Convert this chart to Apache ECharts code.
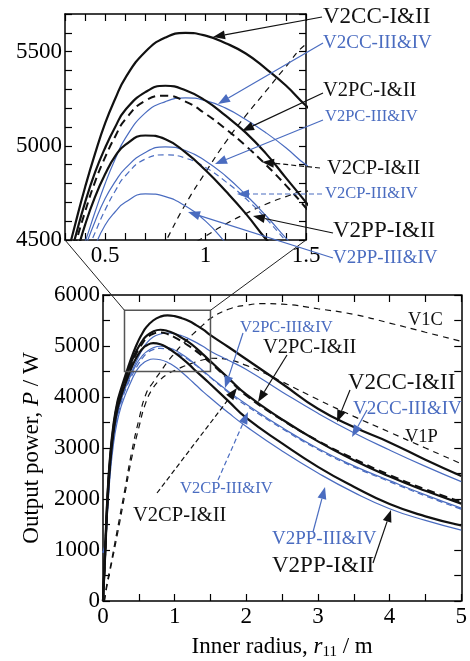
<!DOCTYPE html>
<html>
<head>
<meta charset="utf-8">
<script src="https://cdn.jsdelivr.net/npm/echarts@6/dist/echarts.min.js"></script>
<style>
html, body { margin: 0; padding: 0; background: #fff; }
#chart { width: 470px; height: 661px; }
</style>
</head>
<body>
<div id="chart"></div>
<script>
// inner radius r11 (m) used by the V2 curves
var R = [0, 0.03, 0.06, 0.1, 0.15, 0.2, 0.25, 0.3, 0.35, 0.4, 0.45, 0.5, 0.55, 0.6, 0.7, 0.8, 0.9, 1.0,
    1.1, 1.2, 1.3, 1.4, 1.5, 1.75, 2.0, 2.5, 3.0, 3.5, 4.0, 4.5, 5.0];
// output power P (W)
var v2ccA = [0, 1000, 2000, 2850, 3500, 3900, 4150, 4370, 4580, 4780, 4960, 5120, 5250, 5360, 5500, 5575, 5600, 5585,
    5545, 5490, 5410, 5320, 5213, 4980, 4740, 4260, 3770, 3410, 3110, 2770, 2450];
var v2pcA = [0, 950, 1950, 2800, 3450, 3850, 4100, 4310, 4510, 4700, 4860, 4990, 5100, 5190, 5285, 5319, 5295, 5240,
    5160, 5070, 4960, 4830, 4700, 4370, 4050, 3560, 3130, 2760, 2440, 2160, 1910];
var v2cpA = [0, 930, 1900, 2760, 3400, 3800, 4060, 4270, 4470, 4650, 4810, 4940, 5050, 5140, 5240, 5266, 5235, 5170,
    5090, 5000, 4900, 4790, 4670, 4350, 4030, 3550, 3140, 2790, 2470, 2190, 1940];
var v2ppA = [0, 900, 1850, 2700, 3350, 3750, 4000, 4210, 4400, 4580, 4730, 4850, 4945, 5005, 5055, 5035, 4965, 4870,
    4760, 4640, 4505, 4380, 4250, 3920, 3590, 3090, 2630, 2240, 1900, 1660, 1480];
var v2ccB = [950, 1150, 1800, 2650, 3300, 3700, 3990, 4190, 4350, 4490, 4650, 4800, 4930, 5040, 5175, 5235, 5255, 5240,
    5200, 5140, 5070, 4990, 4899, 4720, 4540, 4100, 3680, 3300, 2960, 2640, 2340];
var v2pcB = [950, 1100, 1750, 2600, 3250, 3650, 3920, 4130, 4300, 4460, 4600, 4720, 4810, 4880, 4965, 4995, 4975, 4920,
    4840, 4740, 4630, 4510, 4390, 4110, 3860, 3400, 2990, 2650, 2360, 2080, 1820];
var v2cpB = [950, 1080, 1720, 2560, 3200, 3600, 3880, 4090, 4260, 4410, 4540, 4660, 4760, 4840, 4930, 4952, 4935, 4885,
    4810, 4720, 4615, 4495, 4380, 4090, 3830, 3380, 2970, 2630, 2340, 2060, 1800];
var v2ppB = [950, 1050, 1680, 2480, 3120, 3520, 3800, 4000, 4170, 4330, 4470, 4580, 4650, 4700, 4745, 4730, 4680, 4600,
    4485, 4360, 4230, 4100, 3980, 3690, 3420, 2940, 2510, 2130, 1810, 1580, 1390];

// V1 curves
var R1 = [0.02, 0.05, 0.1, 0.2, 0.3, 0.4, 0.5, 0.6, 0.7, 0.8, 0.9, 1.0, 1.1, 1.2, 1.3, 1.4, 1.5, 1.75, 2.0, 2.25,
    2.5, 3.0, 3.5, 4.0, 4.5, 5.0];
var v1c = [0, 300, 650, 1400, 2150, 2920, 3550, 4060, 4290, 4490, 4690, 4860, 5020, 5160, 5290, 5420, 5540, 5720, 5800,
    5830, 5820, 5730, 5620, 5450, 5270, 5090];
var v1p = [0, 250, 600, 1300, 2050, 2800, 3400, 3900, 4180, 4340, 4450, 4520, 4585, 4640, 4690, 4730, 4760, 4730, 4620,
    4470, 4300, 3950, 3620, 3310, 3000, 2690];

// ticks and tick labels
var insetXTicks = [0.3, 0.4, 0.5, 0.6, 0.7, 0.8, 0.9, 1.0, 1.1, 1.2, 1.3, 1.4, 1.5];
var insetXLabels = [0.5, 1, 1.5];
var insetYTicks = [4500, 4600, 4700, 4800, 4900, 5000, 5100, 5200, 5300, 5400, 5500, 5600, 5700];
var insetYLabels = [4500, 5000, 5500];
var mainXTicks = [0, 0.5, 1, 1.5, 2, 2.5, 3, 3.5, 4, 4.5, 5];
var mainXLabels = [0, 1, 2, 3, 4, 5];
var mainYTicks = [0, 500, 1000, 1500, 2000, 2500, 3000, 3500, 4000, 4500, 5000, 5500, 6000];
var mainYLabels = [0, 1000, 2000, 3000, 4000, 5000, 6000];

var FONT = '"Liberation Serif", "Times New Roman", serif';
var BLACK = '#111';
var BLUE = '#4a6cc0';

var curves = [
    { name: 'V1C', x: R1, y: v1c, color: BLACK, width: 1.2, dash: [6, 5] },
    { name: 'V1P', x: R1, y: v1p, color: BLACK, width: 1.2, dash: [6, 5] },
    { name: 'V2PP-III&IV', x: R, y: v2ppB, color: BLUE, width: 1.2 },
    { name: 'V2CP-III&IV', x: R, y: v2cpB, color: BLUE, width: 1.2, dash: [6, 4] },
    { name: 'V2PC-III&IV', x: R, y: v2pcB, color: BLUE, width: 1.2 },
    { name: 'V2CC-III&IV', x: R, y: v2ccB, color: BLUE, width: 1.2 },
    { name: 'V2PP-I&II', x: R, y: v2ppA, color: BLACK, width: 2.2 },
    { name: 'V2CP-I&II', x: R, y: v2cpA, color: BLACK, width: 2, dash: [8, 5] },
    { name: 'V2PC-I&II', x: R, y: v2pcA, color: BLACK, width: 2.2 },
    { name: 'V2CC-I&II', x: R, y: v2ccA, color: BLACK, width: 2.2 }
];

function xAx(grid, pos, min, max, ticks, labels) {
    return {
        gridIndex: grid, type: 'value', position: pos, min: min, max: max,
        axisLine: { show: true, onZero: false, lineStyle: { color: '#000', width: 1.5 } },
        axisTick: { show: true, inside: true, length: 7, customValues: ticks, lineStyle: { color: '#000', width: 1.2 } },
        axisLabel: labels ? {
            customValues: labels, fontFamily: FONT, fontSize: 23, color: '#000', margin: 4,
            formatter: function (v) { return String(v); }
        } : { show: false },
        splitLine: { show: false }
    };
}
function yAx(grid, pos, min, max, ticks, labels) {
    var a = xAx(grid, pos, min, max, ticks, labels);
    if (labels) a.axisLabel.margin = 3;
    return a;
}

var series = [];
curves.forEach(function (c) {
    var pts = c.x.map(function (r, i) { return [r, c.y[i]]; });
    [0, 2].forEach(function (ax) {
        series.push({
            name: c.name, type: 'line', data: pts,
            xAxisIndex: ax, yAxisIndex: ax,
            showSymbol: false, smooth: 0.5, clip: true,
            lineStyle: { color: c.color, width: c.width, type: c.dash || 'solid' },
            animation: false, silent: true
        });
    });
});

var mainX = xAx(1, 'bottom', 0, 5, mainXTicks, mainXLabels);
mainX.name = '{a|Inner radius, }{i|r}{s|11}{a| / m}';
mainX.nameLocation = 'middle';
mainX.nameGap = 33;
mainX.nameTextStyle = {
    rich: {
        a: { fontFamily: FONT, fontSize: 23, color: '#000', lineHeight: 26 },
        i: { fontFamily: FONT, fontSize: 23, fontStyle: 'italic', color: '#000', lineHeight: 26 },
        s: { fontFamily: FONT, fontSize: 15, color: '#000', lineHeight: 26, verticalAlign: 'bottom', padding: [12, 0, 0, 0] }
    }
};
var mainY = yAx(1, 'left', 0, 6000, mainYTicks, mainYLabels);
mainY.name = '{a|Output power, }{i|P}{a| / W}';
mainY.nameLocation = 'middle';
mainY.nameGap = 55;
mainY.nameTextStyle = {
    rich: {
        a: { fontFamily: FONT, fontSize: 23, color: '#000' },
        i: { fontFamily: FONT, fontSize: 23, fontStyle: 'italic', color: '#000' }
    }
};

var chart = echarts.init(document.getElementById('chart'));
chart.setOption({
    animation: false,
    backgroundColor: '#fff',
    grid: [
        { left: 65, top: 14, width: 241, height: 226 },
        { left: 103, top: 295, width: 362, height: 308 }
    ],
    xAxis: [
        xAx(0, 'bottom', 0.3, 1.5, insetXTicks, insetXLabels),
        xAx(0, 'top', 0.3, 1.5, insetXTicks, null),
        mainX,
        xAx(1, 'top', 0, 5, mainXTicks, null)
    ],
    yAxis: [
        yAx(0, 'left', 4500, 5700, insetYTicks, insetYLabels),
        yAx(0, 'right', 4500, 5700, insetYTicks, null),
        mainY,
        yAx(1, 'right', 0, 6000, mainYTicks, null)
    ],
    series: series
});

// annotations: label text and arrows (pixel positions)
function arrow(x1, y1, x2, y2, color, dash) {
    var L = 12, W = 4.5;
    var a = Math.atan2(y2 - y1, x2 - x1);
    var bx = x2 - L * Math.cos(a), by = y2 - L * Math.sin(a);
    return [
        { type: 'line', z: 100, shape: { x1: x1, y1: y1, x2: bx, y2: by },
          style: { stroke: color, lineWidth: 1.2, lineDash: dash ? [5, 3] : null } },
        { type: 'polygon', z: 100, shape: { points: [[x2, y2],
            [bx + W * Math.sin(a), by - W * Math.cos(a)], [bx - W * Math.sin(a), by + W * Math.cos(a)]] },
          style: { fill: color } }
    ];
}
function label(text, x, y, size, color) {
    return { type: 'text', z: 100, x: x, y: y,
        style: { text: text, font: size + 'px ' + FONT, fill: color, verticalAlign: 'middle', align: 'left' } };
}

var g = [];
// inset
g.push(label('V2CC-I&II', 323, 17, 23, BLACK));
g.push(label('V2CC-III&IV', 323, 43, 19, BLUE));
g.push(label('V2PC-I&II', 323, 91, 20.5, BLACK));
g.push(label('V2PC-III&IV', 325, 117, 16.5, BLUE));
g.push(label('V2CP-I&II', 327, 169, 20.5, BLACK));
g.push(label('V2CP-III&IV', 325, 194, 16.5, BLUE));
g.push(label('V2PP-I&II', 333, 231, 23, BLACK));
g.push(label('V2PP-III&IV', 333, 258, 19, BLUE));
g = g.concat(arrow(322, 17, 213, 37, BLACK));
g = g.concat(arrow(323, 43, 218, 104, BLUE));
g = g.concat(arrow(323, 93, 242, 131, BLACK));
g = g.concat(arrow(323, 120, 215, 164, BLUE));
g = g.concat(arrow(320, 168, 262, 162, BLACK, true));
g = g.concat(arrow(322, 194, 237, 194, BLUE, true));
g = g.concat(arrow(333, 233, 253, 216, BLACK));
g = g.concat(arrow(333, 258, 188, 212, BLUE));
// main
g.push(label('V1C', 408, 320, 18.5, BLACK));
g.push(label('V1P', 405, 437, 18.5, BLACK));
g.push(label('V2PC-III&IV', 240, 328, 16.5, BLUE));
g.push(label('V2PC-I&II', 263, 348, 20.5, BLACK));
g.push(label('V2CC-I&II', 348, 383, 23, BLACK));
g.push(label('V2CC-III&IV', 353, 409, 19, BLUE));
g.push(label('V2CP-III&IV', 180, 489, 16.5, BLUE));
g.push(label('V2CP-I&II', 133, 516, 20.5, BLACK));
g.push(label('V2PP-III&IV', 272, 539, 19, BLUE));
g.push(label('V2PP-I&II', 272, 566, 23, BLACK));
g = g.concat(arrow(243, 333, 225, 388, BLUE));
g = g.concat(arrow(287, 355, 258, 402, BLACK));
g = g.concat(arrow(350, 390, 337, 422, BLACK));
g = g.concat(arrow(367, 410, 352, 437, BLUE));
g = g.concat(arrow(218, 480, 248, 412, BLUE, true));
g = g.concat(arrow(157, 493, 237, 388, BLACK, true));
g = g.concat(arrow(313, 532, 325, 487, BLUE));
g = g.concat(arrow(373, 563, 391, 510, BLACK));

// zoom window in the main plot and its connector lines
var tl = chart.convertToPixel({ gridIndex: 1 }, [0.3, 5700]);
var br = chart.convertToPixel({ gridIndex: 1 }, [1.5, 4500]);
var il = chart.convertToPixel({ gridIndex: 0 }, [0.3, 4500]);
var ir = chart.convertToPixel({ gridIndex: 0 }, [1.5, 4500]);
g.push({ type: 'rect', z: 90, shape: { x: tl[0], y: tl[1], width: br[0] - tl[0], height: br[1] - tl[1] },
    style: { fill: null, stroke: '#555', lineWidth: 1.5 } });
g.push({ type: 'line', z: 90, shape: { x1: il[0], y1: il[1], x2: tl[0], y2: tl[1] }, style: { stroke: '#222', lineWidth: 1 } });
g.push({ type: 'line', z: 90, shape: { x1: ir[0], y1: ir[1], x2: br[0], y2: tl[1] }, style: { stroke: '#222', lineWidth: 1 } });

chart.setOption({ graphic: g });
</script>
</body>
</html>
